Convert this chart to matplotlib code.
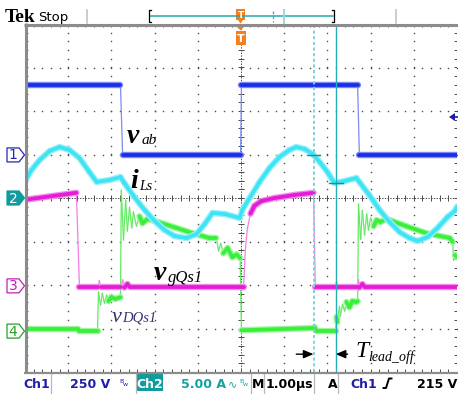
import numpy as np
import matplotlib
matplotlib.use("Agg")
import matplotlib.pyplot as plt
from matplotlib.collections import LineCollection
from matplotlib.patches import Polygon, Rectangle

W, H, DPI = 458, 394, 100
PX_X = 43.2   # pixels per horizontal division (1 us)
PX_Y = 43.5   # pixels per vertical division

# ---------------- waveform data ----------------
# Ch1: bridge voltage v_ab [V], 250 V/div, ground marker +0.99 div
t1 = [-5.0, -2.79, -2.74, -0.01, 0.01, 2.70, 2.74, 5.0]
v1 = [400, 400, 0, 0, 400, 400, 0, 0]
ch1_scale, ch1_offset = 250.0, 0.99

# Ch2: resonant inductor current i_Ls [A], 5 A/div, ground marker at centre
t2 = [-5.0, -4.85, -4.66, -4.43, -4.20, -3.97, -3.74, -3.51, -3.34, -3.04,
      -2.79, -2.70, -2.47, -2.23, -2.00, -1.77, -1.54, -1.26, -1.03, -0.84,
      -0.66, -0.38, -0.03, 0.03, 0.20, 0.43, 0.66, 0.89, 1.12, 1.28, 1.47,
      1.66, 1.82, 2.00, 2.16, 2.40, 2.67, 2.74, 2.97, 3.21, 3.44, 3.67, 3.90,
      4.09, 4.32, 4.55, 4.78, 4.95, 5.0]
i2 = [1.95, 3.22, 4.37, 5.40, 5.86, 5.52, 4.60, 2.99, 1.84, 2.07,
      2.41, 1.72, 0.11, -1.38, -2.64, -3.68, -4.37, -4.60, -4.14, -2.99,
      -1.72, -1.84, -2.30, -1.38, 0.0, 1.84, 3.45, 4.71, 5.52, 5.86, 5.63,
      5.06, 4.14, 2.99, 1.72, 1.95, 2.30, 1.84, 0.34, -1.38, -2.76, -3.91, -4.60,
      -4.95, -4.48, -3.45, -2.18, -1.50, -1.00]
ch2_scale, ch2_offset = 5.0, 0.0

# Ch3: gate voltage v_gQs1 [div above its marker]
t3 = [-5.0, -3.81, -3.74, -3.30, -3.28, -3.25, -2.77, -2.74, -2.70, -2.63,
      -2.58, 0.03, 0.06, 0.10, 0.15, 0.22, 0.31, 0.47, 0.78, 1.24, 1.68,
      1.72, 2.19, 2.21, 2.23, 2.70, 2.72, 2.74, 2.81, 2.86, 5.0]
v3 = [1.98, 2.14, -0.02, -0.02, 0.12, -0.02, -0.02, 0.14, -0.04, 0.04,
      -0.02, -0.02, -0.02, 0.83, 1.33, 1.66, 1.84, 1.95, 2.02, 2.09, 2.14,
      -0.02, -0.02, 0.10, -0.02, -0.02, 0.14, -0.04, 0.04, -0.02, -0.02]
ch3_offset = -2.02

# Ch4: drain-source voltage v_DQs1 [div above its marker]
t4 = [-5.0, -3.78, -3.74, -3.32, -3.30, -3.25, -3.21, -3.16, -3.11, -3.07,
      -3.00, -2.91, -2.79, -2.77, -2.72, -2.67, -2.63, -2.58, -2.53, -2.49,
      -2.42, -2.35, -2.28, -2.16, -2.05, -1.49, -1.12, -0.73, -0.57, -0.52,
      -0.47, -0.41, -0.31, -0.20, -0.10, -0.02, 0.01, 1.68, 1.70, 1.75, 2.19,
      2.21, 2.23, 2.28, 2.30, 2.35, 2.40, 2.44, 2.51, 2.58, 2.67, 2.70, 2.72,
      2.77, 2.81, 2.86, 2.91, 2.95, 3.00, 3.07, 3.14, 3.23, 3.37, 3.83, 4.29,
      4.83, 4.90, 4.92, 4.95, 5.0]
v4 = [0.05, 0.05, 0.0, 0.0, 0.90, 0.60, 0.87, 0.64, 0.83, 0.69,
      0.78, 0.74, 0.78, 3.24, 2.09, 3.01, 2.30, 2.85, 2.37, 2.74,
      2.41, 2.64, 2.48, 2.58, 2.55, 2.37, 2.25, 2.14, 2.14, 1.84,
      2.02, 1.79, 1.91, 1.70, 1.76, 1.68, 0.02, 0.07, 0.09, 0.0, 0.0,
      0.32, 0.21, 0.57, 0.34, 0.62, 0.46, 0.67, 0.55, 0.69, 0.67, 0.69, 2.92,
      2.11, 2.78, 2.21, 2.69, 2.32, 2.60, 2.41, 2.55, 2.51, 2.58, 2.41, 2.25,
      2.14, 2.05, 1.63, 1.75, 1.70]
ch4_offset = -3.06

# time cursors [us]
cursor_a, cursor_b = 1.68, 2.19

# channel marker levels (div)
markers = [("1", ch1_offset), ("2", ch2_offset), ("3", ch3_offset), ("4", ch4_offset)]

# ---------------- figure ----------------
fig = plt.figure(figsize=(W / DPI, H / DPI), dpi=DPI)
fig.patch.set_facecolor("white")

x0, x1, y0, y1 = 25, 457, 24, 372
ax = fig.add_axes([x0 / W, (H - y1) / H, (x1 - x0) / W, (y1 - y0) / H])
ax.set_xlim(-5, 5)
ax.set_ylim(-4, 4)
ax.axis("off")

# graticule
grid_c = "#4a4a4a"
tminor = np.arange(-5, 5.001, 0.2)
vminor = np.arange(-4, 4.001, 0.2)
for tv in range(-4, 5):
    if tv != 0:
        ax.plot(np.full_like(vminor, tv), vminor, ls="none", marker="s",
                ms=1.0, mew=0, color=grid_c, zorder=1)
for vv in range(-3, 4):
    if vv != 0:
        ax.plot(tminor, np.full_like(tminor, vv), ls="none", marker="s",
                ms=1.0, mew=0, color=grid_c, zorder=1)
ax.axhline(0, color=grid_c, lw=0.7, ls=(0, (1.4, 1.4)), zorder=1)
ax.axvline(0, color=grid_c, lw=0.7, ls=(0, (1.4, 1.4)), zorder=1)
ax.vlines(tminor, -0.06, 0.06, color=grid_c, lw=0.7, zorder=1)
ax.hlines(vminor, -0.06, 0.06, color=grid_c, lw=0.7, zorder=1)
ax.vlines(tminor, 3.93, 4, color=grid_c, lw=0.7, zorder=1)
ax.vlines(tminor, -4, -3.93, color=grid_c, lw=0.7, zorder=1)
ax.hlines(vminor, -5, -4.93, color=grid_c, lw=0.7, zorder=1)
ax.hlines(vminor, 4.93, 5, color=grid_c, lw=0.7, zorder=1)


def draw_trace(t, v, core, fringe, edge, z, thin_edges=True):
    t = np.asarray(t, float)
    v = np.asarray(v, float)
    pts = np.column_stack([t, v])
    segs = np.stack([pts[:-1], pts[1:]], axis=1)
    dx = np.diff(t) * PX_X
    dy = np.diff(v) * PX_Y
    if thin_edges:
        steep = (np.abs(dy) > 2.5 * np.abs(dx)) & (np.abs(dy) > 5)
    else:
        steep = np.zeros(len(segs), bool)
    if steep.any():
        ax.add_collection(LineCollection(segs[steep], colors=edge, linewidths=0.9,
                                         capstyle="round", zorder=z))
    flat = segs[~steep]
    ax.add_collection(LineCollection(flat, colors=fringe, linewidths=4.6,
                                     capstyle="round", zorder=z))
    ax.add_collection(LineCollection(flat, colors=core, linewidths=2.7,
                                     capstyle="round", zorder=z + 0.1))


draw_trace(t4, np.asarray(v4) + ch4_offset, "#3cee3c", "#9ef69e", "#62ea62", 3)
draw_trace(t3, np.asarray(v3) + ch3_offset, "#e41cd6", "#f08ee8", "#f07fe6", 3.5)
draw_trace(t2, np.asarray(i2) / ch2_scale + ch2_offset, "#3ee4f4", "#9cf0f8", "#3ee4f4", 4,
           thin_edges=False)
draw_trace(t1, np.asarray(v1) / ch1_scale + ch1_offset, "#1a2ee6", "#7a88f2", "#7d8cf0", 4.5)

# cursors
ax.axvline(cursor_a, color="#80d2da", lw=1.4, dashes=(1.6, 1.3), zorder=5)
ax.axvline(cursor_b, color="#22b0b8", lw=1.0, zorder=5)
for tc in (cursor_a, cursor_b):
    yc = np.interp(tc, t2, i2) / ch2_scale + ch2_offset
    ax.plot([tc - 0.16, tc + 0.16], [yc, yc], color="#1e8c90", lw=1.0, zorder=6)

# dead-time arrows
ya = -3.59
ax.annotate("", xy=(cursor_a, ya), xytext=(cursor_a - 0.40, ya),
            arrowprops=dict(arrowstyle="-|>,head_length=0.6,head_width=0.25",
                            color="black", lw=1.0, shrinkA=0, shrinkB=0))
ax.annotate("", xy=(cursor_b, ya), xytext=(cursor_b + 0.28, ya),
            arrowprops=dict(arrowstyle="-|>,head_length=0.6,head_width=0.25",
                            color="black", lw=1.0, shrinkA=0, shrinkB=0))

# ---------------- overlay in pixel coordinates ----------------
ov = fig.add_axes([0, 0, 1, 1], zorder=5)
ov.set_xlim(0, W)
ov.set_ylim(H, 0)
ov.axis("off")
ov.patch.set_alpha(0)

border_c = "#8c8c8c"
ov.plot([25.5, 25.5], [23, 373], color=border_c, lw=2.2, solid_capstyle="butt")
ov.plot([24, W], [24.5, 24.5], color=border_c, lw=2.2, solid_capstyle="butt")
ov.plot([24, W], [372.5, 372.5], color=border_c, lw=1.6, solid_capstyle="butt")

# channel markers on the left
mk_style = {
    "1": dict(edge="#2626b4", face="white", text="#2626b4"),
    "2": dict(edge="#109c9c", face="#109c9c", text="white"),
    "3": dict(edge="#c020b4", face="white", text="#c020b4"),
    "4": dict(edge="#28a028", face="white", text="#28a028"),
}
for lab, off in markers:
    yc = 198 - off * PX_Y
    st = mk_style[lab]
    ov.add_patch(Polygon([(7, yc - 7), (19, yc - 7), (24.5, yc), (19, yc + 7), (7, yc + 7)],
                         closed=True, fc=st["face"], ec=st["edge"], lw=0.9))
    ov.text(13, yc + 0.5, lab, color=st["text"], fontsize=10, ha="center", va="center",
            family="DejaVu Sans")

# trigger level indicator on the right
ov.add_patch(Polygon([(449, 117), (455, 113), (455, 121)], closed=True, fc="#1c1c9c", ec="none"))
ov.plot([454, 458], [117, 117], color="#1c1c9c", lw=1.2)

# signal names
serif = "Liberation Serif"
ov.text(127, 143, "v", family=serif, style="italic", weight="bold", fontsize=20, va="baseline")
ov.text(141.5, 144, "ab", family=serif, style="italic", fontsize=11, va="baseline")
ov.text(130, 188, "i", family=serif, style="italic", weight="bold", fontsize=20, va="baseline")
ov.text(139.5, 190, "Ls", family=serif, style="italic", fontsize=10, va="baseline")
ov.text(154, 280, "v", family=serif, style="italic", weight="bold", fontsize=20, va="baseline")
ov.text(168, 282, "gQs1", family=serif, style="italic", fontsize=12, va="baseline")
ov.text(112, 322, "v", family=serif, style="italic", fontsize=16, va="baseline", color="#32326e")
ov.text(122, 322, "DQs1", family=serif, style="italic", fontsize=10.5, va="baseline",
        color="#32326e")
ov.text(355, 357, "T", family=serif, style="italic", fontsize=17, va="baseline")
ov.text(368, 361, "lead_off", family=serif, style="italic", fontsize=10, va="baseline")

# top status line
ov.text(5, 21.5, "Tek", family=serif, weight="bold", fontsize=14, va="baseline")
ov.text(38, 21, "Stop", family="DejaVu Sans", fontsize=9.5, va="baseline")
ov.plot([86.5, 86.5], [10, 23], color="#c4c4c4", lw=1.2)
ov.plot([395.5, 395.5], [10, 23], color="#c4c4c4", lw=1.2)
ov.plot([150, 333], [16, 16], color="#22aaae", lw=1.1)
ov.plot([151, 149, 149, 151], [10, 10, 22, 22], color="black", lw=0.9)
ov.plot([332, 334, 334, 332], [10, 10, 22, 22], color="black", lw=0.9)
ov.plot([273, 273], [11, 22], color="#4aa8ae", lw=1.0, ls=(0, (2, 1.5)))
ov.plot([284, 284], [10, 23], color="#9ad8dc", lw=1.4)
orange = "#f28020"
ov.add_patch(Rectangle((236, 9), 9, 11, fc=orange, ec="none"))
ov.add_patch(Polygon([(238, 20), (243, 20), (240.5, 23.5)], closed=True, fc=orange, ec="none"))
ov.text(240.5, 15, "T", color="white", fontsize=6.5, weight="bold", ha="center", va="center")
ov.add_patch(Polygon([(236, 26), (245, 26), (240.5, 30.5)], closed=True, fc=orange, ec="none"))
ov.add_patch(Rectangle((235.5, 31), 10.5, 14, fc=orange, ec="none"))
ov.text(240.8, 38.5, "T", color="white", fontsize=8, weight="bold", ha="center", va="center")

# bottom status line
blue_t, teal_t = "#1e1ea8", "#12a2a2"
sb = dict(family="DejaVu Sans", weight="bold", fontsize=9, va="baseline")
for xb in (51, 136, 250.5, 263.5, 314, 338):
    ov.plot([xb, xb], [374, H], color="#b8b8b8", lw=0.9)
ov.text(23, 388, "Ch1", color=blue_t, **sb)
ov.text(70, 388, "250 V", color=blue_t, **sb)
ov.text(119, 383, "B", color=blue_t, family="DejaVu Sans", fontsize=4.5, va="baseline")
ov.text(123, 386, "w", color=blue_t, family="DejaVu Sans", fontsize=4.5, va="baseline")
ov.add_patch(Rectangle((137, 374), 26, 17, fc="#109c9c", ec="none"))
ov.text(150, 388, "Ch2", color="white", ha="center", **sb)
ov.text(181, 388, "5.00 A", color=teal_t, **sb)
ov.text(228, 387, "\u223f", color=teal_t, family="DejaVu Sans", fontsize=8, va="baseline")
ov.text(239, 383, "B", color=teal_t, family="DejaVu Sans", fontsize=4.5, va="baseline")
ov.text(243, 386, "w", color=teal_t, family="DejaVu Sans", fontsize=4.5, va="baseline")
ov.text(251.5, 388, "M", color="black", **sb)
ov.text(266, 388, "1.00\u00b5s", color="black", **sb)
ov.text(328, 388, "A", color="black", **sb)
ov.text(350, 388, "Ch1", color=blue_t, **sb)
ov.plot([383.5, 386, 389, 391.5], [388, 388, 378.5, 378.5], color="black", lw=1.4)
ov.text(457, 388, "215 V", color="black", ha="right", **sb)

fig.savefig("out.png", dpi=DPI, facecolor="white")
